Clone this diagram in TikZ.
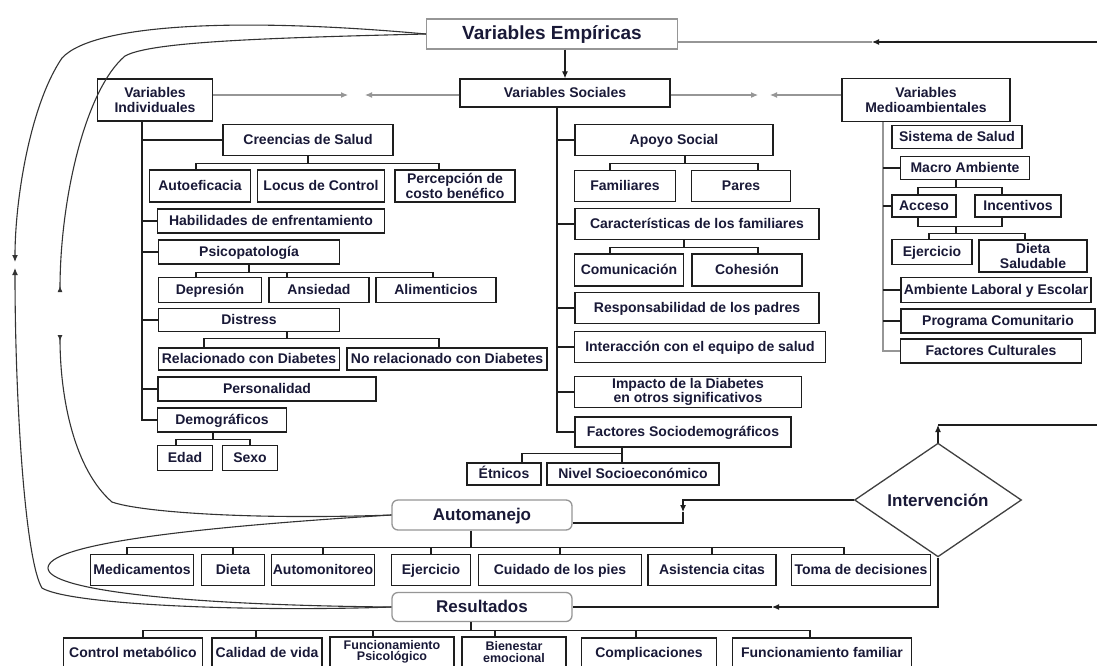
\documentclass[tikz,border=0pt]{standalone}
\usepackage{fontspec}
\setmainfont{Liberation Sans}
\usetikzlibrary{shapes.geometric, arrows.meta, calc}
\definecolor{mitexto}{RGB}{25,25,55}
\definecolor{migris}{RGB}{150,150,150}
\definecolor{milinea}{RGB}{30,30,30}
\tikzset{
  caja2/.style={rectangle, draw=milinea, fill=white, line width=1.3pt,
    inner sep=1pt, align=center, text=mitexto,
    font=\fontsize{14}{14.5}\selectfont\bfseries},
  caja/.style={caja2, text height=11pt, text depth=2pt},
  titulo/.style={rectangle, draw=migris, fill=white, line width=1.3pt,
    inner sep=2pt, align=center, text=mitexto, text height=13pt, text depth=3pt,
    font=\fontsize{17}{20}\selectfont\bfseries},
  redondo/.style={titulo, rounded corners=6pt},
  rombo/.style={diamond, draw=black!75, fill=white, line width=1.3pt,
    inner sep=0pt, text=mitexto, font=\fontsize{17}{20}\selectfont\bfseries},
  linea/.style={line width=1.1pt, color=milinea},
  lineagris/.style={line width=1.1pt, color=migris},
  flecha/.style={-{Latex[length=7pt,width=6pt]}, line width=1.1pt, color=milinea},
  curva/.style={line width=1.1pt, color=black!80}
}

\begin{document}
\begin{tikzpicture}[x=1pt, y=-1pt]
  \useasboundingbox (0,0) rectangle (1097,665);
  \fill[white] (0,0) rectangle (1097,665);
  \clip (0,0) rectangle (1097,665);

  % Encabezados
  \node[titulo, minimum width=251pt, minimum height=30pt, font=\fontsize{19}{22}\selectfont\bfseries] (emp) at (552,34) {Variables Empíricas};
  \node[caja2, minimum width=115pt, minimum height=42pt] (ind) at (155,100) {Variables\\Individuales};
  \node[caja, minimum width=210pt, minimum height=28pt] (soc) at (565,93) {Variables Sociales};
  \node[caja2, minimum width=168pt, minimum height=43pt] (med) at (926,100) {Variables\\Medioambientales};

  % Variables individuales
  \node[caja, minimum width=170pt, minimum height=31pt] (cre) at (308,140) {Creencias de Salud};
  \node[caja, minimum width=101pt, minimum height=32pt] (autoef) at (200,186) {Autoeficacia};
  \node[caja, minimum width=127pt, minimum height=32pt] (locus) at (321,186) {Locus de Control};
  \node[caja2, minimum width=120pt, minimum height=32pt] (perc) at (455,186) {Percepción de\\costo benéfico};
  \node[caja, minimum width=227pt, minimum height=24pt] (hab) at (271,221) {Habilidades de enfrentamiento};
  \node[caja, minimum width=181pt, minimum height=24pt] (psi) at (249,252) {Psicopatología};
  \node[caja, minimum width=103pt, minimum height=25pt] (dep) at (210,290) {Depresión};
  \node[caja, minimum width=100pt, minimum height=25pt] (ans) at (319,290) {Ansiedad};
  \node[caja, minimum width=120pt, minimum height=25pt] (ali) at (436,290) {Alimenticios};
  \node[caja, minimum width=181pt, minimum height=23pt] (dis) at (249,320) {Distress};
  \node[caja, minimum width=181pt, minimum height=22pt] (rel) at (249,359) {Relacionado con Diabetes};
  \node[caja, minimum width=200pt, minimum height=22pt] (norel) at (447,359) {No relacionado con Diabetes};
  \node[caja, minimum width=218pt, minimum height=24pt] (per) at (267,389) {Personalidad};
  \node[caja, minimum width=129pt, minimum height=24pt] (dem) at (222,420) {Demográficos};
  \node[caja, minimum width=55pt, minimum height=25pt] (eda) at (185,458) {Edad};
  \node[caja, minimum width=55pt, minimum height=25pt] (sex) at (250,458) {Sexo};

  % Variables sociales
  \node[caja, minimum width=198pt, minimum height=31pt] (apo) at (674,140) {Apoyo Social};
  \node[caja, minimum width=101pt, minimum height=31pt] (fam) at (625,186) {Familiares};
  \node[caja, minimum width=99pt, minimum height=31pt] (par) at (741,186) {Pares};
  \node[caja, minimum width=244pt, minimum height=31pt] (car) at (697,224) {Características de los familiares};
  \node[caja, minimum width=109pt, minimum height=32pt] (com) at (629,270) {Comunicación};
  \node[caja, minimum width=110pt, minimum height=32pt] (coh) at (747,270) {Cohesión};
  \node[caja, minimum width=244pt, minimum height=31pt] (rpa) at (697,308) {Responsabilidad de los padres};
  \node[caja, minimum width=251pt, minimum height=31pt] (inte) at (700,347) {Interacción con el equipo de salud};
  \node[caja2, minimum width=227pt, minimum height=31pt] (imp) at (688,392) {Impacto de la Diabetes\\en otros significativos};
  \node[caja, minimum width=216pt, minimum height=30pt] (fso) at (683,432) {Factores Sociodemográficos};
  \node[caja, minimum width=74pt, minimum height=22pt] (etn) at (504,474) {Étnicos};
  \node[caja, minimum width=172pt, minimum height=22pt] (nse) at (633,474) {Nivel Socioeconómico};

  % Variables medioambientales
  \node[caja, minimum width=130pt, minimum height=23pt] (sis) at (957,137) {Sistema de Salud};
  \node[caja, minimum width=129pt, minimum height=23pt] (mac) at (965,168) {Macro Ambiente};
  \node[caja, minimum width=64pt, minimum height=22pt] (acc) at (924,206) {Acceso};
  \node[caja, minimum width=86pt, minimum height=22pt] (inc) at (1018,206) {Incentivos};
  \node[caja, minimum width=80pt, minimum height=25pt] (ejm) at (932,252) {Ejercicio};
  \node[caja2, minimum width=108pt, minimum height=32pt] (dsa) at (1033,256) {Dieta\\Saludable};
  \node[caja, minimum width=190pt, minimum height=25pt] (amb) at (996,290) {Ambiente Laboral y Escolar};
  \node[caja, minimum width=194pt, minimum height=24pt] (pro) at (998,321) {Programa Comunitario};
  \node[caja, minimum width=181pt, minimum height=24pt] (fcu) at (991,351) {Factores Culturales};

  % Automanejo, resultados, intervencion
  \node[redondo, minimum width=180pt, minimum height=30pt] (auto) at (482,515) {Automanejo};
  \node[redondo, minimum width=180pt, minimum height=29pt] (res) at (482,607) {Resultados};
  \node[rombo, minimum width=167pt, minimum height=105pt] (int) at (938,500) {Intervención};

  \node[caja, minimum width=103pt, minimum height=31pt] (med1) at (142,570) {Medicamentos};
  \node[caja, minimum width=63pt, minimum height=31pt] (die) at (233,570) {Dieta};
  \node[caja, minimum width=103pt, minimum height=31pt] (aut) at (323,570) {Automonitoreo};
  \node[caja, minimum width=79pt, minimum height=31pt] (eje) at (431,570) {Ejercicio};
  \node[caja, minimum width=163pt, minimum height=31pt] (cui) at (560,570) {Cuidado de los pies};
  \node[caja, minimum width=128pt, minimum height=31pt] (asi) at (712,570) {Asistencia citas};
  \node[caja, minimum width=139pt, minimum height=31pt] (tom) at (861,570) {Toma de decisiones};

  \node[caja, minimum width=139pt, minimum height=30pt] (cme) at (133,653) {Control metabólico};
  \node[caja, minimum width=110pt, minimum height=30pt] (cvi) at (267,653) {Calidad de vida};
  \node[caja2, minimum width=124pt, minimum height=30pt, font=\fontsize{12.5}{11.5}\selectfont\bfseries] (fps) at (392,652) {Funcionamiento\\Psicológico};
  \node[caja2, minimum width=104pt, minimum height=30pt, font=\fontsize{12.5}{11.5}\selectfont\bfseries] (bie) at (514,652) {Bienestar\\emocional};
  \node[caja, minimum width=135pt, minimum height=30pt] (cpl) at (649,653) {Complicaciones};
  \node[caja, minimum width=179pt, minimum height=30pt] (ffa) at (822,653) {Funcionamiento familiar};

  % Ejes de las tres columnas
  \coordinate (espI) at ([xshift=-13pt]ind.south);
  \coordinate (espS) at ([xshift=-8pt]soc.south);
  \coordinate (espM) at ([xshift=-43pt]med.south);
  \draw[linea] (espI) |- (dem.west);
  \draw[linea] (espS) |- (fso.west);
  \draw[lineagris] (espM) |- (fcu.west);
  \foreach \n in {cre, hab, psi, dis, per}
    \draw[linea] (\n.west) -- (\n.west -| espI);
  \foreach \n in {apo, car, rpa, inte, imp}
    \draw[linea] (\n.west) -- (\n.west -| espS);
  \foreach \n in {mac, acc, amb, pro}
    \draw[linea] (\n.west) -- (\n.west -| espM);

  % Ramas
  \draw[linea] (cre.south) -- ++(0,7) coordinate (bcre);
  \draw[linea] ([xshift=-4pt]autoef.north) |- (bcre) -| ([xshift=-16pt]perc.north);
  \draw[linea] (psi.south) -- ++(0,8) coordinate (bpsi);
  \draw[linea] ([xshift=-14pt]dep.north) |- (bpsi) -| ([xshift=-3pt]ali.north);
  \draw[linea] ([xshift=-32pt]ans.north) -- ([xshift=-32pt]ans.north |- bpsi);
  \draw[linea] ([xshift=38pt]dis.south) -- ++(0,6) coordinate (bdis);
  \draw[linea] ([xshift=-45pt]rel.north) |- (bdis) -| ([xshift=-8pt]norel.north);
  \draw[linea] ([xshift=-9pt]dem.south) -- ++(0,7) coordinate (bdem);
  \draw[linea] ([xshift=-9pt]eda.north) |- (bdem) -| (sex.north);

  \draw[linea] ([xshift=11pt]apo.south) -- ++(0,7) coordinate (bapo);
  \draw[linea] ([xshift=-15pt]fam.north) |- (bapo) -| ([xshift=17pt]par.north);
  \draw[linea] ([xshift=-13pt]car.south) -- ++(0,7) coordinate (bcar);
  \draw[linea] ([xshift=-19pt]com.north) |- (bcar) -| ([xshift=11pt]coh.north);
  \draw[linea] ([xshift=-61pt]fso.south) -- ++(0,6) coordinate (bfso);
  \draw[linea] ([xshift=18pt]etn.north) |- (bfso) -| ([xshift=-11pt]nse.north);

  \draw[linea] ([xshift=-9pt]mac.south) -- ++(0,7) coordinate (bmac);
  \draw[linea] ([xshift=-6pt]acc.north) |- (bmac) -| ([xshift=-16pt]inc.north);
  \draw[linea] ([xshift=-6pt]acc.south) -- ++(0,9) coordinate (bacc) -| ([xshift=-16pt]inc.south);
  \draw[linea] (bacc -| bmac) -- ++(0,7) coordinate (beje);
  \draw[linea] ([xshift=-3pt]ejm.north) |- (beje) -| ([xshift=-8pt]dsa.north);

  \draw[linea] ([xshift=-11pt]auto.south) -- ++(0,17) coordinate (baut);
  \draw[linea] ([xshift=-15pt]med1.north) |- (baut) -| ([xshift=-17pt]tom.north);
  \foreach \n in {die, aut, eje, cui, asi}
    \draw[linea] (\n.north) -- (\n.north |- baut);
  \draw[linea] ([xshift=-11pt]res.south) -- ++(0,8) coordinate (bres);
  \draw[linea] ([xshift=10pt]cme.north) |- (bres) -| ([xshift=-12pt]ffa.north);
  \draw[linea] ([xshift=-11pt]cvi.north) -- ([xshift=-11pt]cvi.north |- bres);
  \draw[linea] ([xshift=-19pt]fps.north) -- ([xshift=-19pt]fps.north |- bres);
  \draw[linea] ([xshift=-19pt]bie.north) -- ([xshift=-19pt]bie.north |- bres);
  \draw[linea] ([xshift=-13pt]cpl.north) -- ([xshift=-13pt]cpl.north |- bres);

  % Relaciones entre variables
  \coordinate (mI) at (348,95);
  \coordinate (mS) at (365,95);
  \coordinate (mS2) at (758,95);
  \coordinate (mM) at (770,95);
  \draw[flecha, color=migris] (ind.east |- mI) -- (mI);
  \draw[flecha, color=migris] (soc.west |- mS) -- (mS);
  \draw[flecha, color=migris] (soc.east |- mS2) -- (mS2);
  \draw[flecha, color=migris] (med.west |- mM) -- (mM);
  \draw[flecha] (emp.south -| soc.north) -- (soc.north);

  % Curvas de la izquierda
  \coordinate (flA) at (15,262);
  \coordinate (flB) at (15,268);
  \coordinate (flC) at (60,292);
  \coordinate (flD) at (60,335);
  \draw[curva, -{Latex[length=7pt,width=6pt]}] (emp.west) .. controls (250,18) and (95,22) .. (62,58)
    .. controls (30,105) and (15,200) .. (flA);
  \draw[curva, -{Latex[length=7pt,width=6pt]}] (res.west) .. controls (250,612) and (70,605) .. (42,588)
    .. controls (25,560) and (15,400) .. (flB);
  \draw[curva, -{Latex[length=6pt,width=5pt,reversed]}] (emp.west) .. controls (260,38) and (150,42) .. (125,56)
    .. controls (85,90) and (60,200) .. (flC);
  \draw[curva, -{Latex[length=6pt,width=5pt,reversed]}] (auto.west) .. controls (250,520) and (140,512) .. (112,502)
    .. controls (75,470) and (60,400) .. (flD);
  \draw[curva] (auto.west) .. controls (180,528) and (48,545) .. (48,568)
    .. controls (48,590) and (180,605) .. (res.west);

  % Lazos de la intervencion
  \coordinate (derA) at (1097,42);
  \coordinate (flE) at (872,42);
  \draw[flecha] (derA) -- (flE);
  \draw[lineagris] (flE) -- (emp.east |- flE);
  \coordinate (derB) at (1097,425);
  \draw[flecha] (int.north) -- (int.north |- derB);
  \draw[linea] (int.north |- derB) -- (derB);
  \coordinate (flF) at (683,512);
  \draw[flecha] (int.west) -| (flF);
  \draw[linea] ([yshift=-8pt]auto.east) -| (flF);
  \coordinate (flG) at (772,607);
  \draw[flecha] (int.south) |- (flG);
  \draw[linea] (flG) -- (res.east);
\end{tikzpicture}
\end{document}
